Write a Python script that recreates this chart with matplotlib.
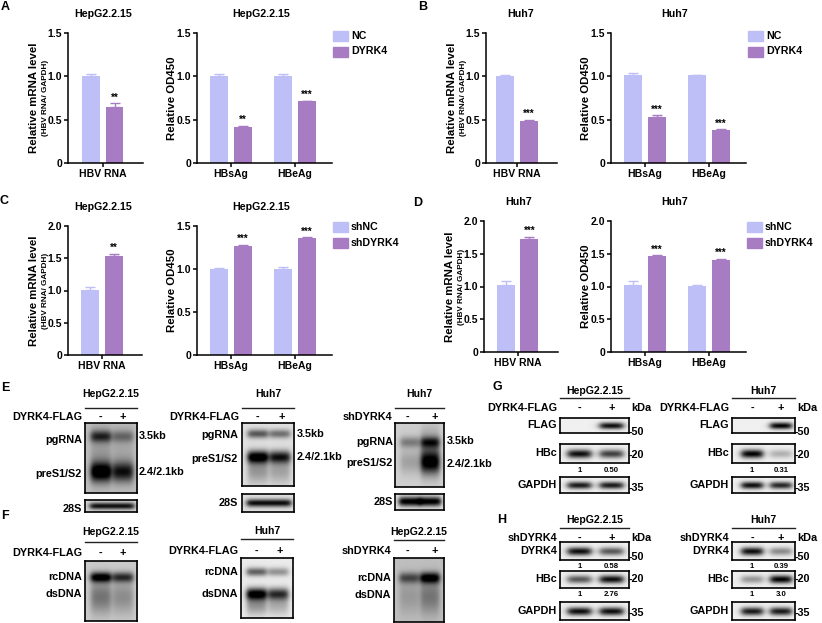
import numpy as np
import matplotlib
matplotlib.use("Agg")
import matplotlib.pyplot as plt
from matplotlib.lines import Line2D
from matplotlib.patches import Rectangle

# ---- bar chart data ----
# A: HepG2.2.15, NC vs DYRK4
a_rna = [1.00, 0.65]
a_rna_err = [0.03, 0.04]
a_rna_sig = ["", "**"]
a_od = [1.00, 0.42, 1.00, 0.71]          # HBsAg NC, DYRK4, HBeAg NC, DYRK4
a_od_err = [0.03, 0.01, 0.03, 0.01]
a_od_sig = ["", "**", "", "***"]
# B: Huh7, NC vs DYRK4
b_rna = [1.00, 0.49]
b_rna_err = [0.01, 0.01]
b_rna_sig = ["", "***"]
b_od = [1.01, 0.53, 1.01, 0.38]
b_od_err = [0.03, 0.02, 0.01, 0.01]
b_od_sig = ["", "***", "", "***"]
# C: HepG2.2.15, shNC vs shDYRK4
c_rna = [1.01, 1.54]
c_rna_err = [0.04, 0.03]
c_rna_sig = ["", "**"]
c_od = [1.00, 1.27, 1.00, 1.36]
c_od_err = [0.01, 0.01, 0.02, 0.01]
c_od_sig = ["", "***", "", "***"]
# D: Huh7, shNC vs shDYRK4
d_rna = [1.02, 1.72]
d_rna_err = [0.06, 0.04]
d_rna_sig = ["", "***"]
d_od = [1.02, 1.47, 1.01, 1.41]
d_od_err = [0.06, 0.01, 0.01, 0.01]
d_od_sig = ["", "***", "", "***"]

od_groups = ["HBsAg", "HBeAg"]
rna_group = ["HBV RNA"]

# ---- blot band darkness per lane (-, +), estimated by eye ----
e1_pg, e1_pres, e1_28s = [0.55, 0.3], [0.85, 0.65], [0.8, 0.8]
e2_pg, e2_pres, e2_28s = [0.55, 0.45], [0.95, 0.75], [0.85, 0.85]
e3_pg, e3_pres, e3_28s = [0.3, 0.55], [0.15, 0.7], [0.95, 0.95]
f1_rc, f1_ds = [0.85, 0.6], [0.35, 0.25]
f2_rc, f2_ds = [0.55, 0.35], [0.95, 0.7]
f3_rc, f3_ds = [0.45, 0.8], [0.15, 0.3]
g1_flag, g1_hbc, g1_gapdh = [0.0, 0.9], [0.9, 0.7], [0.85, 0.85]
g2_flag, g2_hbc, g2_gapdh = [0.0, 0.95], [0.95, 0.25], [0.9, 0.8]
h1_dyrk, h1_hbc, h1_gapdh = [0.9, 0.6], [0.6, 0.9], [0.9, 0.9]
h2_dyrk, h2_hbc, h2_gapdh = [0.9, 0.4], [0.35, 0.95], [0.85, 0.85]
g1_quant = ["1", "0.50"]
g2_quant = ["1", "0.31"]
h1_quant_d, h1_quant_h = ["1", "0.58"], ["1", "2.76"]
h2_quant_d, h2_quant_h = ["1", "0.39"], ["1", "3.0"]

C_NC = "#bfbff8"
C_KD = "#a87cc2"

plt.rcParams["font.family"] = ["Liberation Sans", "DejaVu Sans"]
plt.rcParams["font.weight"] = "bold"

W, H = 822, 623
fig = plt.figure(figsize=(W / 100, H / 100), dpi=100)


def px_axes(x0, y0, x1, y1):
    return fig.add_axes([x0 / W, 1 - y1 / H, (x1 - x0) / W, (y1 - y0) / H])


def ftext(x, y, s, size=7.8, ha="center", va="center", **kw):
    fig.text(x / W, 1 - y / H, s, fontsize=size, ha=ha, va=va,
             fontweight="bold", **kw)


def hline(x0, x1, y, lw=1.0):
    fig.add_artist(Line2D([x0 / W, x1 / W], [1 - y / H, 1 - y / H],
                          transform=fig.transFigure, color="#222222", lw=lw))


def style_axis(ax, top, step):
    for s in ["top", "right"]:
        ax.spines[s].set_visible(False)
    for s in ["left", "bottom"]:
        ax.spines[s].set_linewidth(1.1)
    ax.set_ylim(0, top)
    ticks = np.arange(0, top + 1e-9, step)
    ax.set_yticks(ticks)
    ax.set_yticklabels(["0" if t == 0 else f"{t:.1f}" for t in ticks])
    ax.tick_params(axis="both", direction="out", length=3.2, width=1.1,
                   labelsize=7.5, pad=1)
    for lab in ax.get_yticklabels() + ax.get_xticklabels():
        lab.set_fontweight("bold")


def draw_bars(ax, xs, vals, errs, sigs, colors, top):
    ax.bar(xs, vals, width=0.76, color=colors, zorder=2)
    for x, v, e, c, s in zip(xs, vals, errs, colors, sigs):
        ax.errorbar(x, v, yerr=[[0], [e]], color=c, capsize=3.5,
                    elinewidth=1.0, capthick=1.0, zorder=1)
        if s:
            ax.text(x, v + e + top * 0.005, s, ha="center", va="bottom",
                    fontsize=7, fontweight="bold")


def rna_chart(x, ytop, ybot, xleft, vals, errs, sigs, top, step, title):
    unit = 23.5
    xr = 2.2
    ax = px_axes(x, ytop, x + (xr - xleft) * unit, ybot)
    ax.set_xlim(xleft, xr)
    draw_bars(ax, [0, 1], vals, errs, sigs, [C_NC, C_KD], top)
    style_axis(ax, top, step)
    ax.set_xticks([0.5])
    ax.set_xticklabels(rna_group, fontsize=7.5, fontweight="bold")
    ymid = (ytop + ybot) / 2
    ftext(x - 34, ymid, "Relative mRNA level", size=8.2, rotation=90)
    ftext(x - 23, ymid, "(HBV RNA/ GAPDH)", size=5.9, rotation=90)
    ftext(x + 35, ytop - 19, title, size=7.7)
    return ax


def od_chart(x, ytop, ybot, vals, errs, sigs, top, step, title):
    unit = 24
    xl, xr = -0.92, 4.7
    ax = px_axes(x, ytop, x + (xr - xl) * unit, ybot)
    ax.set_xlim(xl, xr)
    xs = [0, 1, 2.65, 3.65]
    draw_bars(ax, xs, vals, errs, sigs, [C_NC, C_KD, C_NC, C_KD], top)
    style_axis(ax, top, step)
    ax.set_xticks([0.5, 3.15])
    ax.set_xticklabels(od_groups, fontsize=7.5, fontweight="bold")
    ymid = (ytop + ybot) / 2
    ftext(x - 25, ymid, "Relative OD450", size=8.2, rotation=90)
    ftext(x + 64, ytop - 19, title, size=7.7)
    return ax


def legend(x, y, labels):
    for i, (lab, c) in enumerate(zip(labels, [C_NC, C_KD])):
        yy = y + i * 15.5
        fig.add_artist(Rectangle((x / W, 1 - (yy + 10) / H), 15 / W, 10 / H,
                                 transform=fig.transFigure, color=c))
        ftext(x + 18, yy + 5, lab, size=7.7, ha="left")


# ---- panels A-D ----
rna_chart(68, 33, 163, -0.98, a_rna, a_rna_err, a_rna_sig, 1.5, 0.5, "HepG2.2.15")
od_chart(197, 33, 163, a_od, a_od_err, a_od_sig, 1.5, 0.5, "HepG2.2.15")
legend(333, 31, ["NC", "DYRK4"])

rna_chart(486, 33, 163, -0.82, b_rna, b_rna_err, b_rna_sig, 1.5, 0.5, "Huh7")
od_chart(611, 33, 163, b_od, b_od_err, b_od_sig, 1.5, 0.5, "Huh7")
legend(748, 31, ["NC", "DYRK4"])

rna_chart(68, 226, 355, -0.95, c_rna, c_rna_err, c_rna_sig, 2.0, 0.5, "HepG2.2.15")
od_chart(197, 226, 355, c_od, c_od_err, c_od_sig, 1.5, 0.5, "HepG2.2.15")
legend(333, 222, ["shNC", "shDYRK4"])

rna_chart(484, 221, 352, -0.93, d_rna, d_rna_err, d_rna_sig, 2.0, 0.5, "Huh7")
od_chart(611, 221, 352, d_od, d_od_err, d_od_sig, 2.0, 0.5, "Huh7")
legend(747, 222, ["shNC", "shDYRK4"])

for lx, ly, s in [(5, 7, "A"), (423, 7, "B"), (4, 201, "C"), (418, 203, "D"),
                  (5, 388, "E"), (5, 516, "F"), (497, 387, "G"), (502, 520, "H")]:
    ftext(lx, ly, s, size=9)


# ---- blots ----
def blot(box, bands, bg=0.08, lanes=(0.3, 0.72), half=0.19):
    x0, y0, x1, y1 = box
    ax = px_axes(x0, y0, x1, y1)
    hh, ww = 160, 120
    yy = np.linspace(0, 1, hh)[:, None]
    xx = np.linspace(0, 1, ww)[None, :]
    img = np.full((hh, ww), bg)
    for yc, sig, vals in bands:
        for xc, v in zip(lanes, vals):
            xp = 1 / (1 + np.exp((np.abs(xx - xc) - half) / 0.03))
            img = img + v * np.exp(-0.5 * ((yy - yc) / sig) ** 2) * xp
    ax.imshow(np.clip(img, 0, 1), cmap="gray_r", vmin=0, vmax=1,
              aspect="auto", extent=(0, 1, 1, 0), interpolation="bilinear")
    ax.set_xticks([])
    ax.set_yticks([])
    for s in ax.spines.values():
        s.set_linewidth(1.2)
    return ax


def header(x0, x1, title, ty, ly, cond, cy, lanes, kda=False):
    ftext((x0 + x1) / 2, ty, title, size=7.6)
    hline(x0, x1, ly)
    ftext(x0 - 3, cy, cond, size=7.8, ha="right")
    for f, s in zip(lanes, ["-", "+"]):
        ftext(x0 + f * (x1 - x0), cy, s, size=7.8)
    if kda:
        ftext(x1 + 2, cy, "kDa", size=7.8, ha="left")


# E
nl = (0.3, 0.72)
blot((85, 423, 137, 493), [(0.19, 0.06, e1_pg), (0.7, 0.1, e1_pres),
                           (0.45, 0.3, [0.15, 0.1])], bg=0.25)
blot((85, 500, 137, 512), [(0.5, 0.2, e1_28s)], bg=0.15, half=0.21)
header(85, 137, "HepG2.2.15", 394, 408, "DYRK4-FLAG", 417, nl)
ftext(82, 440, "pgRNA", ha="right")
ftext(82, 474, "preS1/S2", ha="right")
ftext(82, 509, "28S", ha="right")
ftext(139, 436, "3.5kb", ha="left")
ftext(139, 472, "2.4/2.1kb", ha="left")

blot((242, 423, 294, 486), [(0.17, 0.05, e2_pg), (0.54, 0.07, e2_pres),
                            (0.75, 0.15, [0.3, 0.25])], bg=0.12)
blot((242, 494, 294, 512), [(0.5, 0.15, e2_28s)], bg=0.12, half=0.21)
header(242, 294, "Huh7", 394, 408, "DYRK4-FLAG", 417, (0.29, 0.77))
ftext(238, 435, "pgRNA", ha="right")
ftext(238, 459, "preS1/S2", ha="right")
ftext(238, 503, "28S", ha="right")
ftext(297, 434, "3.5kb", ha="left")
ftext(297, 457, "2.4/2.1kb", ha="left")

blot((395, 423, 444, 487), [(0.3, 0.06, e3_pg), (0.62, 0.12, e3_pres),
                            (0.45, 0.25, [0.05, 0.3])], bg=0.18)
blot((395, 494, 444, 510), [(0.5, 0.2, e3_28s)], bg=0.1, half=0.22)
header(395, 444, "Huh7", 394, 408, "shDYRK4", 417, (0.25, 0.81))
ftext(393, 442, "pgRNA", ha="right")
ftext(393, 463, "preS1/S2", ha="right")
ftext(393, 502, "28S", ha="right")
ftext(447, 441, "3.5kb", ha="left")
ftext(447, 464, "2.4/2.1kb", ha="left")

# F
blot((85, 561, 137, 621), [(0.27, 0.06, f1_rc), (0.6, 0.2, f1_ds)], bg=0.2)
header(85, 137, "HepG2.2.15", 532, 542, "DYRK4-FLAG", 553, nl)
ftext(82, 577, "rcDNA", ha="right")
ftext(82, 594, "dsDNA", ha="right")

blot((241, 558, 293, 618), [(0.23, 0.05, f2_rc), (0.6, 0.07, f2_ds),
                            (0.78, 0.12, [0.35, 0.25])], bg=0.08)
header(241, 293, "Huh7", 531, 539, "DYRK4-FLAG", 551, (0.3, 0.75))
ftext(238, 572, "rcDNA", ha="right")
ftext(238, 594, "dsDNA", ha="right")

blot((394, 558, 444, 622), [(0.31, 0.06, f3_rc), (0.6, 0.2, f3_ds)], bg=0.25)
header(394, 444, "HepG2.2.15", 532, 540, "shDYRK4", 551, (0.26, 0.82))
ftext(391, 578, "rcDNA", ha="right")
ftext(391, 595, "dsDNA", ha="right")


# G / H westerns
def western(x0, x1, rows, lanes, quants):
    for (name, y0, y1, my, mk, vals) in rows:
        blot((x0, y0, x1, y1), [(0.52, 0.16, vals)], bg=0.06, lanes=lanes,
             half=0.17)
        ftext(x0 - 3, (y0 + y1) / 2, name, ha="right")
        ftext(x1, my, mk, ha="left")
    for qy, q in quants:
        for f, s in zip(lanes, q):
            ftext(x0 + f * (x1 - x0), qy, s, size=5.6)


western(560, 629, [("FLAG", 418, 433, 432, "-50", g1_flag),
                   ("HBc", 444, 463, 455, "-20", g1_hbc),
                   ("GAPDH", 477, 493, 488, "-35", g1_gapdh)],
        (0.28, 0.75), [(470, g1_quant)])
header(560, 629, "HepG2.2.15", 391, 398, "DYRK4-FLAG", 408, (0.28, 0.75), kda=True)

western(732, 795, [("FLAG", 418, 433, 432, "-50", g2_flag),
                   ("HBc", 444, 463, 455, "-20", g2_hbc),
                   ("GAPDH", 477, 493, 488, "-35", g2_gapdh)],
        (0.32, 0.78), [(470, g2_quant)])
header(732, 795, "Huh7", 391, 398, "DYRK4-FLAG", 408, (0.32, 0.78), kda=True)

western(560, 629, [("DYRK4", 542, 560, 557, "-50", h1_dyrk),
                   ("HBc", 571, 588, 579, "-20", h1_hbc),
                   ("GAPDH", 602, 620, 613, "-35", h1_gapdh)],
        (0.28, 0.75), [(567, h1_quant_d), (595, h1_quant_h)])
header(560, 629, "HepG2.2.15", 520, 528, "shDYRK4", 538, (0.28, 0.75), kda=True)

western(732, 795, [("DYRK4", 542, 560, 557, "-50", h2_dyrk),
                   ("HBc", 571, 588, 579, "-20", h2_hbc),
                   ("GAPDH", 602, 620, 613, "-35", h2_gapdh)],
        (0.32, 0.78), [(567, h2_quant_d), (595, h2_quant_h)])
header(732, 795, "Huh7", 520, 528, "shDYRK4", 538, (0.32, 0.78), kda=True)

fig.savefig("out.png", dpi=100)
